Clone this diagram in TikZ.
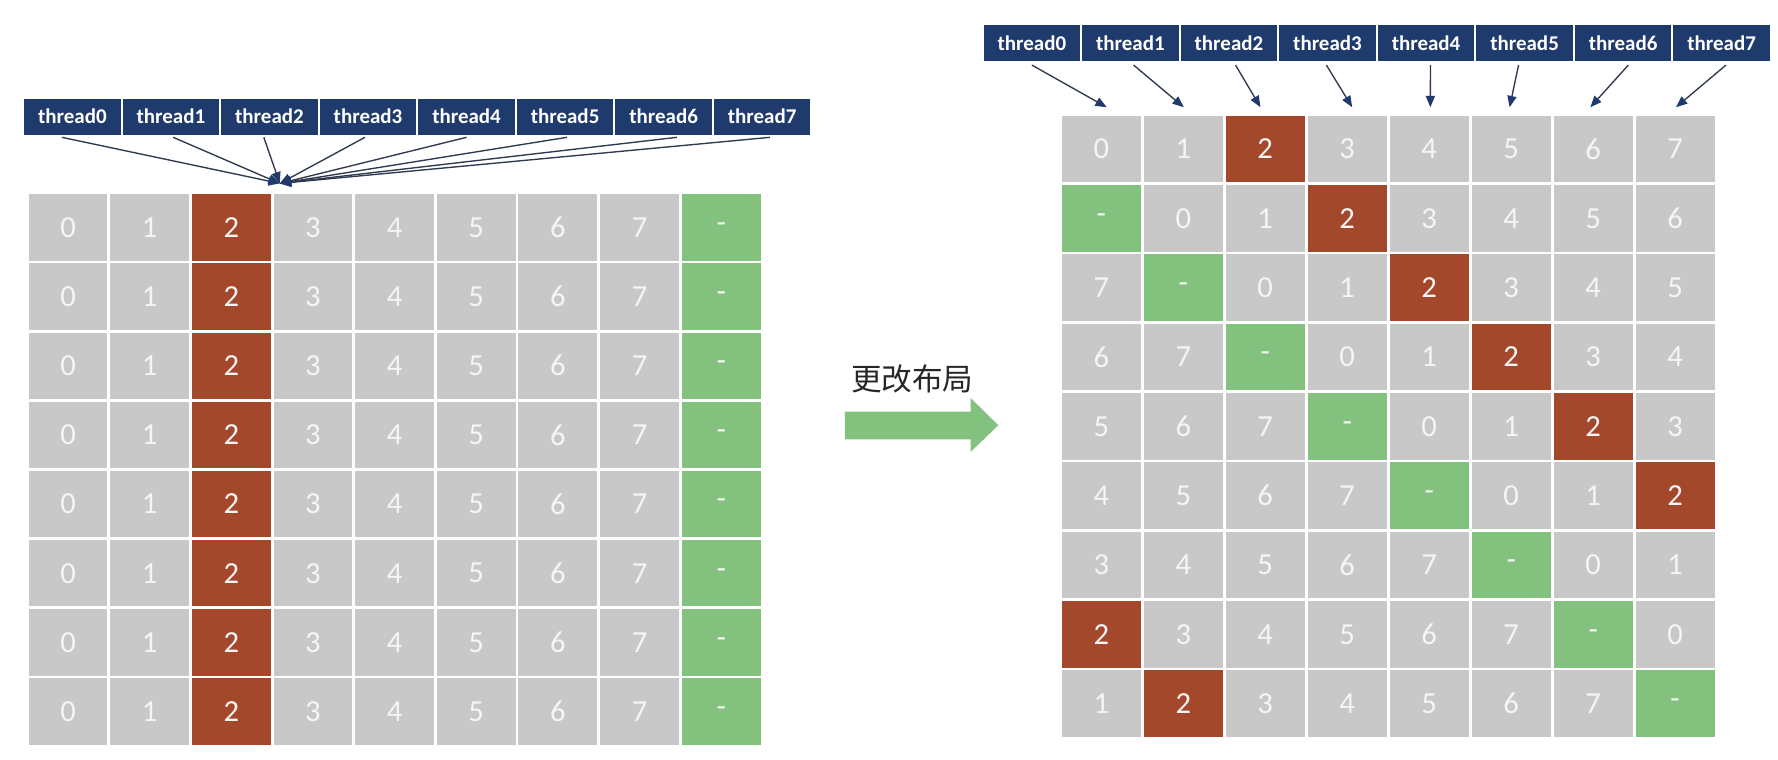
\documentclass[tikz,border=0pt]{standalone}
\usepackage{fontspec}
\setmainfont{Carlito}
\newfontfamily\cjkfont{Noto Sans CJK SC}
\usetikzlibrary{arrows.meta,calc}
\definecolor{cellgray}{HTML}{C8C8C8}
\definecolor{cellred}{HTML}{A3482A}
\definecolor{cellgreen}{HTML}{82C17E}
\definecolor{navy}{HTML}{1F3B6E}
\definecolor{linec}{HTML}{2E3A50}
\tikzset{
  cellbox/.style={draw=white, line width=2.5pt, fill=cellgray, inner sep=0pt,
    text=white!96!black, font=\fontsize{27}{27}\selectfont},
  lcell/.style={cellbox, minimum width=72pt, minimum height=61pt},
  rcell/.style={cellbox, minimum width=72.3pt, minimum height=61.15pt},
  threadbox/.style={fill=navy, inner sep=0pt, minimum width=85pt, minimum height=32pt,
    text=white, font=\bfseries\fontsize{18.5}{18.5}\selectfont},
  conn/.style={draw=linec, line width=1.2pt, -{Triangle[length=10pt,width=8pt,color=navy]}},
}
\begin{document}
\begin{tikzpicture}[x=1pt,y=-1pt]
\useasboundingbox (0,0) rectangle (1568,670);
\fill[white] (0,0) rectangle (1568,670);

% ---------- left grid ----------
\foreach \r in {0,...,7}{
  \foreach \c/\v/\f in {0/0/cellgray,1/1/cellgray,2/2/cellred,3/3/cellgray,4/4/cellgray,5/5/cellgray,6/6/cellgray,7/7/cellgray,8/-/cellgreen}{
    \node[lcell, fill=\f] (L-\r-\c) at ({60+72*\c},{200.5+61*\r}) {\v};
  }
}

% ---------- left threads ----------
\foreach \k in {0,...,7}{
  \node[threadbox] (lt\k) at ({63.85+86.9*\k},102.9) {thread\k};
}
\coordinate (hub) at ([xshift=8pt,yshift=7pt]L-0-3.north west);
\foreach \k/\dx in {0/-9.3,1/2,2/-5,3/-2.7,4/0,5/1.6,6/11.7,7/6.9}{
  \draw[conn] ([xshift=\dx pt,yshift=-2pt]lt\k.south) -- (hub);
}

% ---------- right grid ----------
\foreach \r in {0,...,8}{
  \foreach \c in {0,...,7}{
    \pgfmathtruncatemacro{\idx}{mod(\c-\r+9,9)}
    \ifnum\idx=8
      \def\cf{cellgreen}\def\cv{-}%
    \else\ifnum\idx=2
      \def\cf{cellred}\def\cv{2}%
    \else
      \def\cf{cellgray}\edef\cv{\idx}%
    \fi\fi
    \node[rcell, fill=\cf] (R-\r-\c) at ({971.2+72.3*\c},{131.4+61.15*\r}) {\cv};
  }
}

% ---------- right threads ----------
\foreach \k in {0,...,7}{
  \node[threadbox] (rt\k) at ({910+86.9*\k},38.2) {thread\k};
}
\foreach \k/\sx/\ex in {0/0/4.8,1/2.8/0.5,2/5.8/-4.2,3/-1/4.4,4/3.9/1,5/-5.3/-1.4,6/4.6/-2.5,7/3.8/0.7}{
  \draw[conn] ([xshift=\sx pt,yshift=-3pt]rt\k.south) -- ([xshift=\ex pt,yshift=5pt]R-0-\k.north);
}

% ---------- change-layout arrow ----------
\node[font=\cjkfont\fontsize{27}{27}\selectfont, text=black!85, inner sep=0pt] (lbl) at (804.5,334.5) {更改布局};
\fill[cellgreen] (745,363) -- (856,363) -- (856,351) -- (880.4,375) -- (856,398.5)
  -- (856,387.4) -- (745,387.4) -- cycle;
\end{tikzpicture}
\end{document}
